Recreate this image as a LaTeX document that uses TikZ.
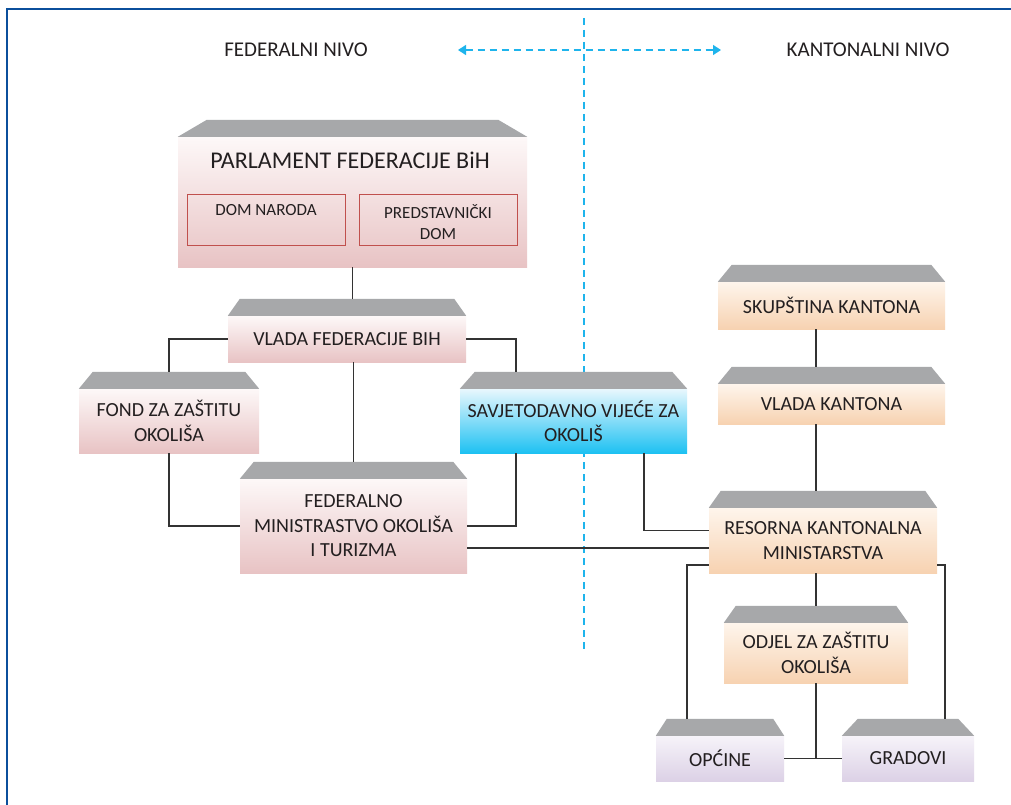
\documentclass[tikz,border=0pt]{standalone}
\usepackage{fontspec}
\setmainfont{Carlito}
\usetikzlibrary{arrows.meta}
\definecolor{framblue}{HTML}{0B4F9C}
\definecolor{divcyan}{HTML}{1EB4EC}
\definecolor{roofgray}{HTML}{A7A8AA}
\definecolor{textgray}{HTML}{231F20}
\definecolor{linegray}{HTML}{333333}
\definecolor{innerred}{HTML}{C0504D}
\definecolor{pinktop}{HTML}{FDF8F8}
\definecolor{pinkbot}{HTML}{E8C3C4}
\definecolor{orangetop}{HTML}{FEF5EC}
\definecolor{orangebot}{HTML}{F7D2B1}
\definecolor{purpletop}{HTML}{F6F3F9}
\definecolor{purplebot}{HTML}{DCD1E6}
\definecolor{bluetop}{HTML}{E8F7FD}
\definecolor{bluebot}{HTML}{1EC1F2}
\tikzset{
  box/.style={rectangle, inner sep=0pt, align=center, text=textgray,
    font=\fontsize{20}{24.5}\selectfont},
  pinkbox/.style={box, top color=pinktop, bottom color=pinkbot},
  orangebox/.style={box, top color=orangetop, bottom color=orangebot},
  purplebox/.style={box, top color=purpletop, bottom color=purplebot},
  bluebox/.style={box, top color=bluetop, bottom color=bluebot},
  innerbox/.style={box, draw=innerred, line width=0.8pt,
    font=\fontsize{17}{21}\selectfont},
  link/.style={draw=linegray, line width=1.2pt},
  divider/.style={draw=divcyan, line width=1.3pt, dash pattern=on 7pt off 5pt},
  level/.style={text=textgray, font=\fontsize{21}{25}\selectfont},
}
% gray roof on top of a box, plus a coordinate at its top edge
\newcommand{\roof}[2][14]{%
  \fill[roofgray] (#2.north west) -- ([xshift=#1pt,yshift=17pt]#2.north west)
    -- ([xshift=-#1pt,yshift=17pt]#2.north east) -- (#2.north east) -- cycle;
  \coordinate (#2-roof) at ([yshift=17pt]#2.north);
}
\begin{document}
\begin{tikzpicture}[x=1pt,y=-1pt]
\useasboundingbox[fill=white] (0,0) rectangle (1011,805);
\draw[framblue, line width=2.5pt] (7,805) -- (7,9) -- (1011,9);

\node[level] (fednivo) at (296,50) {FEDERALNI NIVO};
\node[level] (kantnivo) at (868,50) {KANTONALNI NIVO};
\coordinate (divtop) at (584,18);
\coordinate (divbot) at (584,650);
\coordinate (arrowl) at (458,50);
\coordinate (arrowr) at (721,50);
\draw[divider] (divtop) -- (divbot);
\draw[divider, {Triangle[length=8pt,width=10pt]}-{Triangle[length=8pt,width=10pt]}] (arrowl) -- (arrowr);

\node[pinkbox, minimum width=349pt, minimum height=130pt] (parl) at (352.5,202) {};
\roof[29]{parl}
\node[box, font=\fontsize{24}{28}\selectfont] (parltitle) at (350,160) {PARLAMENT FEDERACIJE BiH};
\node[innerbox, minimum width=158pt, minimum height=51pt] (domnar) at (266,219.5) {\rule{0pt}{20pt}DOM NARODA\\\strut};
\node[innerbox, minimum width=158pt, minimum height=51pt] (preddom) at (438,219.5) {\rule{0pt}{20pt}PREDSTAVNIČKI\\DOM};

\node[pinkbox, minimum width=238pt, minimum height=46pt] (vladafed) at (347,339) {VLADA FEDERACIJE BIH};
\roof[12]{vladafed}
\node[pinkbox, minimum width=180pt, minimum height=64pt] (fond) at (169,421) {FOND ZA ZAŠTITU\\OKOLIŠA};
\roof{fond}
\node[pinkbox, minimum width=227pt, minimum height=94pt] (fedmin) at (353.5,526) {FEDERALNO\\MINISTRASTVO OKOLIŠA\\I TURIZMA};
\roof{fedmin}
\node[bluebox, minimum width=227pt, minimum height=64pt] (savjet) at (573.5,421) {SAVJETODAVNO VIJEĆE ZA\\OKOLIŠ};
\roof[15]{savjet}

\node[orangebox, minimum width=227pt, minimum height=47pt] (skup) at (831.5,305.5) {SKUPŠTINA KANTONA};
\roof{skup}
\node[orangebox, minimum width=227pt, minimum height=40pt] (vladak) at (831.5,404) {VLADA KANTONA};
\roof{vladak}
\node[orangebox, minimum width=228pt, minimum height=65pt] (resorna) at (823,540.5) {RESORNA KANTONALNA\\MINISTARSTVA};
\roof[12]{resorna}
\node[orangebox, minimum width=184pt, minimum height=60pt] (odjel) at (816,653) {ODJEL ZA ZAŠTITU\\OKOLIŠA};
\roof[12]{odjel}
\node[purplebox, minimum width=128pt, minimum height=45pt] (opcine) at (720,758.5) {OPĆINE};
\roof[11]{opcine}
\node[purplebox, minimum width=132pt, minimum height=45pt] (gradovi) at (908,758.5) {GRADOVI};
\roof[16]{gradovi}

\draw[link] (parl.south) -- (parl.south |- vladafed-roof);
\draw[link] (fedmin-roof |- vladafed.south) -- (fedmin-roof);
\draw[link] (vladafed.west) -| (fond-roof);
\draw[link] (vladafed.east) -| ([xshift=-57.5pt]savjet-roof);
\draw[link] (fond.south) |- (fedmin.west);
\draw[link] ([xshift=-57.5pt]savjet.south) |- (fedmin.east);
\draw[link] ([yshift=-22pt]fedmin.east) -- ([yshift=-22pt]fedmin.east -| resorna.west);
\draw[link] ([xshift=70.5pt]savjet.south) |- ([yshift=10pt]resorna.west);

\draw[link] (skup.south -| odjel.north) -- (vladak-roof -| odjel.north);
\draw[link] (vladak.south -| odjel.north) -- (resorna-roof -| odjel.north);
\draw[link] (resorna.south -| odjel.north) -- (odjel-roof);
\draw[link] ([yshift=-24.5pt]resorna.west) -| ([xshift=-33pt]opcine-roof);
\draw[link] ([yshift=-24.5pt]resorna.east) -| ([xshift=37pt]gradovi-roof);
\draw[link] (odjel.south) -- (odjel.south |- opcine.east);
\draw[link, line width=1.8pt] (opcine.east) -- (gradovi.west);
\end{tikzpicture}
\end{document}
